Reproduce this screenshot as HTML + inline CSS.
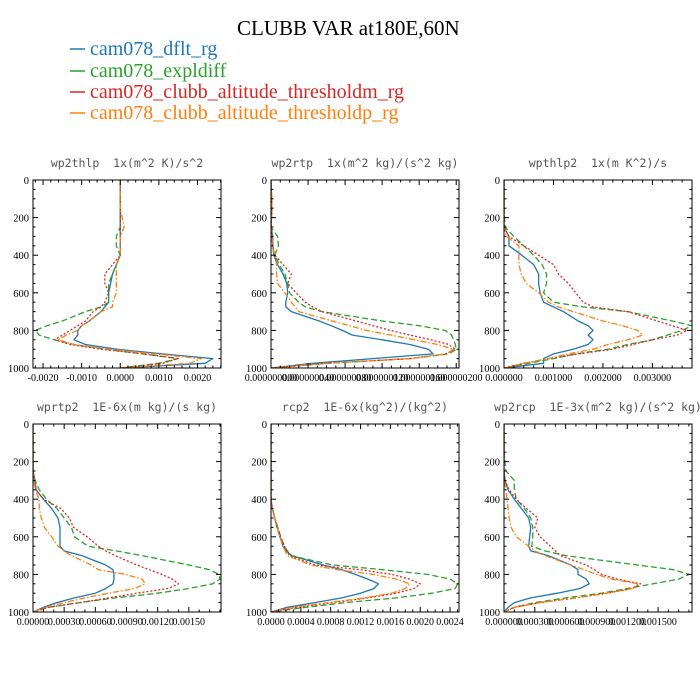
<!DOCTYPE html>
<html><head><meta charset="utf-8"><style>
body{margin:0;background:#fff;}
svg{display:block;}
</style></head><body>
<svg id="chart" width="700" height="700" xmlns="http://www.w3.org/2000/svg">
<rect x="0" y="0" width="700" height="700" fill="#fff"/>
<text x="237" y="35" font-family="Liberation Serif, serif" font-size="21" fill="#000">CLUBB VAR at180E,60N</text>
<g>
 <g><line x1="70" y1="49" x2="85" y2="49" stroke="#1f77b4" stroke-width="1.5"/><text x="90" y="55" font-family="Liberation Serif, serif" font-size="20" fill="#1f77b4">cam078_dflt_rg</text></g>
 <g><line x1="70" y1="71" x2="85" y2="71" stroke="#2ca02c" stroke-width="1.5"/><text x="90" y="77" font-family="Liberation Serif, serif" font-size="20" fill="#2ca02c">cam078_expldiff</text></g>
 <g><line x1="70" y1="92" x2="85" y2="92" stroke="#d62728" stroke-width="1.5"/><text x="90" y="98" font-family="Liberation Serif, serif" font-size="20" fill="#d62728">cam078_clubb_altitude_thresholdm_rg</text></g>
 <g><line x1="70" y1="113" x2="85" y2="113" stroke="#ff7f0e" stroke-width="1.5"/><text x="90" y="119" font-family="Liberation Serif, serif" font-size="20" fill="#ff7f0e">cam078_clubb_altitude_thresholdp_rg</text></g>
</g>
</svg>
<script>
// shared vertical levels (pressure-like, 0 top .. 1000 bottom)
const levels = [0,150,250,300,350,400,450,500,550,600,650,675,700,750,775,800,825,850,875,900,925,950,975,1000];
const yTicks = [0,200,400,600,800,1000];

// Panel 1: wp2thlp (values in 1e-4)
const p1Blue = [0,0,0,0,0,0,-1,-2,-2.5,-3,-3,-4,-5,-8,-10,-11,-11,-12,-9,-1,11,24,22,0];
const p1Green = [0,0,0,-1,-1,0,-1,-2,-3,-3,-3,-5,-9,-15,-19,-22,-21,-17,-12,-4,6,15,10,0];
const p1Red = [0,0,0,0,0,0,-2,-4,-4,-3,-4,-5,-7,-9,-11,-13,-15,-17,-13,-5,6,15,11,0];
const p1Orange = [0,0,1,0,0,0,-1,-1,-1,-1,-2,-2,-5,-8,-10,-11,-14,-16,-12,-3,9,21,18,0];
const p1Ticks = [-20,-10,0,10,20];
const p1TickLabels = ["-0.0020","-0.0010","0.0000","0.0010","0.0020"];

// Panel 2: wp2rtp (values in 1e-9)
const p2Blue = [0,1,0,2,2,3,7,13,17,18,16,16,22,52,65,77,88,120,150,170,175,110,45,0];
const p2Green = [0,1,0,7,8,4,9,15,18,20,30,37,55,120,160,188,195,197,199,200,192,150,60,0];
const p2Red = [0,1,0,1,2,4,13,22,18,27,37,45,55,92,110,129,150,173,192,199,188,150,60,0];
const p2Orange = [0,1,0,1,2,4,6,6,7,15,22,26,30,66,85,103,130,155,180,197,190,150,60,0];
const p2Ticks = [0,40,80,120,160,200];
const p2TickLabels = ["0.000000000","0.000000040","0.000000080","0.000000120","0.000000160","0.000000200"];

// Panel 3: wpthlp2 (values in 1e-4)
const p3Blue = [0,0,0,1,1,3.6,6,7,7,7.3,8,10,12,15,17,18,17,18,17,14,10,8,8,0];
const p3Green = [0,0,0.2,2,4,6,7.7,8.6,8.6,8,10,16,25,34,38,36,33,30,25,21,14.5,10,5,0];
const p3Red = [0,0,0,1,4,7,10,11,13,14.5,16,18,25,31,34,37,35,30,26,22,15,9,4,0];
const p3Orange = [0,0,0,0.5,3,3,3,3.5,4.5,7,9,11,14,20,24,27,28,25,21,18,13,9,4,0];
const p3Ticks = [0,10,20,30];
const p3TickLabels = ["0.000000","0.001000","0.002000","0.003000"];

// Panel 4: wprtp2 (values in 1e-5)
const p4Blue = [0,0,0,2,3,10,18,24,26,26,26,30,47,70,77,78,78,77,70,60,40,23,10,0];
const p4Green = [0,0,0,2,6,13,23,30,37,40,53,80,105,150,170,179,180,173,150,120,79,45,15,0];
const p4Red = [0,0,0,1,3,10,27,35,39,52,63,70,79,100,112,124,134,140,130,100,73,45,15,0];
const p4Orange = [0,0,0,1,2,6,6,8,11,18,24,30,37,56,63,89,105,108,98,73,50,30,12,0];
const p4Ticks = [0,30,60,90,120,150];
const p4TickLabels = ["0.00000","0.00030","0.00060","0.00090","0.00120","0.00150"];

// Panel 5: rcp2 (values in 1e-5)
const p5Blue = [0,0,0,0,0,0,2,5,8,12,16,20,28,70,95,113,130,144,138,120,95,59,22,0];
const p5Green = [0,0,0,0,0,0,2,5,9,13,18,22,26,83,150,210,240,250,247,216,168,100,47,0];
const p5Red = [0,0,0,0,0,0,2,5,9,13,18,21,25,59,120,162,186,200,192,168,130,83,35,0];
const p5Orange = [0,0,0,0,0,0,2,5,8,12,16,19,22,53,89,137,168,186,180,162,125,77,30,0];
const p5Ticks = [0,40,80,120,160,200,240];
const p5TickLabels = ["0.0000","0.0004","0.0008","0.0012","0.0016","0.0020","0.0024"];

// Panel 6: wp2rcp (values in 1e-5)
const p6Blue = [0,0,0,1,4,10,17,24,26,25,24,26,43,65,72,72,80,83,74,52,26,10,4,0];
const p6Green = [0,0,2,10,10,12,20,26,28,28,27,40,60,130,165,180,170,145,120,95,60,30,10,0];
const p6Red = [0,0,0,1,5,12,22,33,30,35,45,50,55,80,88,95,110,133,125,100,70,35,10,0];
const p6Orange = [0,0,0,0,2,3,4,5,7,12,24,30,40,65,78,90,105,130,125,100,70,35,10,0];
const p6Ticks = [0,30,60,90,120,150];
const p6TickLabels = ["0.000000","0.000300","0.000600","0.000900","0.001200","0.001500"];

const NS = "http://www.w3.org/2000/svg";
const svg = document.getElementById('chart');
const colors = {blue:"#1f77b4",green:"#2ca02c",red:"#d62728",orange:"#ff7f0e"};
const dashes = {blue:"",green:"6,3",red:"2,2",orange:"6,2,1.5,2"};

function mk(tag, attrs, parent){
  const e = document.createElementNS(NS, tag);
  for (const k in attrs) e.setAttribute(k, attrs[k]);
  parent.appendChild(e);
  return e;
}

const panels = [
 {key:"wp2thlp", title:"wp2thlp  1x(m^2 K)/s^2", x:33, y:180, xmin:-22.6, xmax:26.1, minor:2, s:{blue:p1Blue,green:p1Green,red:p1Red,orange:p1Orange}, ticks:p1Ticks, labels:p1TickLabels},
 {key:"wp2rtp", title:"wp2rtp  1x(m^2 kg)/(s^2 kg)", x:271, y:180, xmin:0, xmax:203, minor:10, s:{blue:p2Blue,green:p2Green,red:p2Red,orange:p2Orange}, ticks:p2Ticks, labels:p2TickLabels},
 {key:"wpthlp2", title:"wpthlp2  1x(m K^2)/s", x:504, y:180, xmin:0, xmax:38, minor:2, s:{blue:p3Blue,green:p3Green,red:p3Red,orange:p3Orange}, ticks:p3Ticks, labels:p3TickLabels},
 {key:"wprtp2", title:"wprtp2  1E-6x(m kg)/(s kg)", x:33, y:424, xmin:0, xmax:181, minor:10, s:{blue:p4Blue,green:p4Green,red:p4Red,orange:p4Orange}, ticks:p4Ticks, labels:p4TickLabels},
 {key:"rcp2", title:"rcp2  1E-6x(kg^2)/(kg^2)", x:271, y:424, xmin:0, xmax:252, minor:10, s:{blue:p5Blue,green:p5Green,red:p5Red,orange:p5Orange}, ticks:p5Ticks, labels:p5TickLabels},
 {key:"wp2rcp", title:"wp2rcp  1E-3x(m^2 kg)/(s^2 kg)", x:504, y:424, xmin:0, xmax:183, minor:10, s:{blue:p6Blue,green:p6Green,red:p6Red,orange:p6Orange}, ticks:p6Ticks, labels:p6TickLabels}
];
const W = 188, H = 188;

panels.forEach(p => {
  const g = mk('g', {}, svg);
  
  
  const xs = v => p.x + (v - p.xmin) / (p.xmax - p.xmin) * W;
  const ys = v => p.y + v / 1000 * H;

  const t = mk('text', {x: p.x + W/2, y: p.y - 13, 'text-anchor':'middle', 'font-family':'DejaVu Sans Mono, Liberation Mono, monospace', 'font-size':'11.5', fill:'#555', 'xml:space':'preserve'}, g);
  t.textContent = p.title.replace(/  /g, '\u00a0\u00a0');
  
  

  // clip
  const cid = 'clip-' + p.key;
  const cp = mk('clipPath', {id: cid}, g);
  mk('rect', {x:p.x, y:p.y, width:W, height:H}, cp);

  // series
  const sg = mk('g', {'clip-path':'url(#' + cid + ')'}, g);
  ['blue','green','red','orange'].forEach(c => {
    const vals = p.s[c];
    let d = '';
    vals.forEach((v,i) => { d += (i ? 'L' : 'M') + xs(v).toFixed(2) + ',' + ys(levels[i]).toFixed(2); });
    const path = mk('path', {d:d, fill:'none', stroke:colors[c], 'stroke-width':'1.3', 'stroke-dasharray':dashes[c], 'stroke-linejoin':'round'}, sg);
    
    
  });

  // frame
  const fr = mk('rect', {x:p.x, y:p.y, width:W, height:H, fill:'none', stroke:'#000', 'stroke-width':'1'}, g);
  
  

  // y ticks
  for (let v = 0; v <= 1000; v += 50) {
    const len = v % 200 === 0 ? 5 : 2.5;
    const yy = ys(v);
    mk('line', {x1:p.x, y1:yy, x2:p.x+len, y2:yy, stroke:'#000', 'stroke-width':'1'}, g);
    mk('line', {x1:p.x+W, y1:yy, x2:p.x+W-len, y2:yy, stroke:'#000', 'stroke-width':'1'}, g);
  }
  yTicks.forEach(v => {
    const tl = mk('text', {x:p.x - 4, y:ys(v) + 4, 'text-anchor':'end', 'font-family':'Liberation Serif, serif', 'font-size':'10.5', fill:'#000'}, g);
    tl.textContent = String(v);
    
    
  });

  // x ticks
  const start = Math.ceil(p.xmin / p.minor) * p.minor;
  for (let v = start; v <= p.xmax + 1e-9; v += p.minor) {
    const isMajor = p.ticks.some(tk => Math.abs(tk - v) < 1e-6);
    const len = isMajor ? 5 : 2.5;
    const xx = xs(v);
    mk('line', {x1:xx, y1:p.y+H, x2:xx, y2:p.y+H-len, stroke:'#000', 'stroke-width':'1'}, g);
    mk('line', {x1:xx, y1:p.y, x2:xx, y2:p.y+len, stroke:'#000', 'stroke-width':'1'}, g);
  }
  p.ticks.forEach((v,i) => {
    const tl = mk('text', {x:xs(v), y:p.y + H + 13, 'text-anchor':'middle', 'font-family':'Liberation Serif, serif', 'font-size':'10', fill:'#000'}, g);
    tl.textContent = p.labels[i];
    
    
  });
});
</script>
</body></html>
